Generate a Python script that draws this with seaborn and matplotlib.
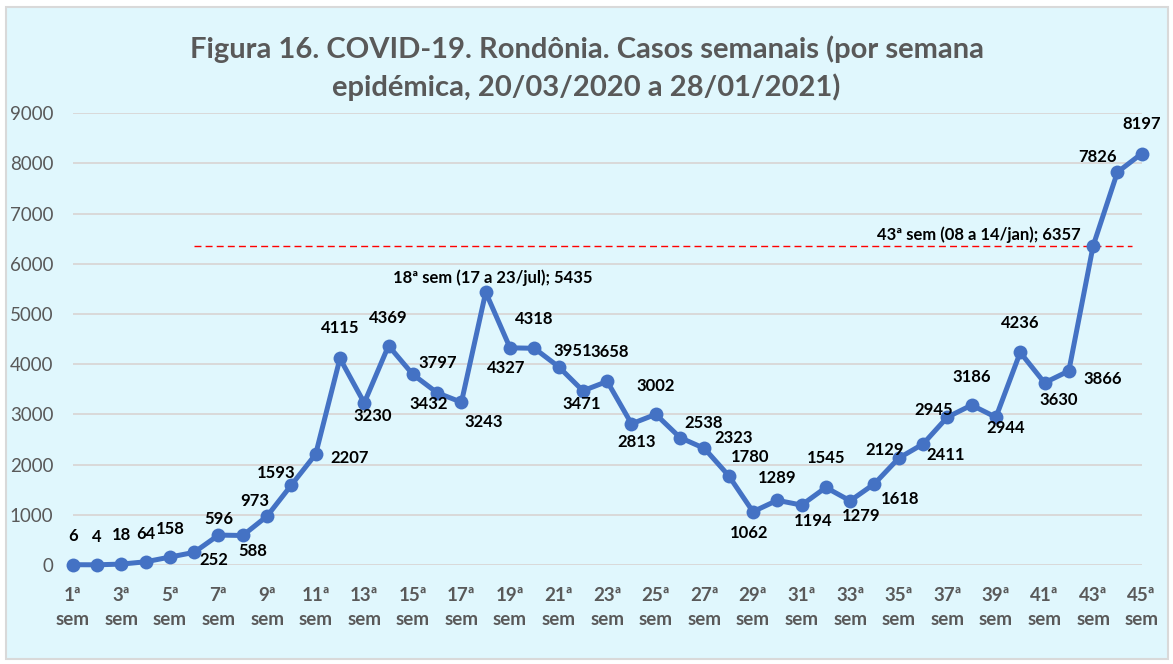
import numpy as np
import pandas as pd
import seaborn as sns
import matplotlib.pyplot as plt
from matplotlib.patches import Rectangle

# weekly cases, epidemiological weeks 1..45
weeks = ["{}ª sem".format(i) for i in range(1, 46)]
cases = [6, 4, 18, 64, 158, 252, 596, 588, 973, 1593,
         2207, 4115, 3230, 4369, 3797, 3432, 3243, 5435, 4327, 4318,
         3951, 3471, 3658, 2813, 3002, 2538, 2323, 1780, 1062, 1289,
         1194, 1545, 1279, 1618, 2129, 2411, 2945, 3186, 2944, 4236,
         3630, 3866, 6357, 7826, 8197]
highlight_weeks = [18, 43]
highlight_periods = ["17 a 23/jul", "08 a 14/jan"]

title = ("Figura 16. COVID-19. Rondônia. Casos semanais (por semana\n"
         "epidémica, 20/03/2020 a 28/01/2021)")

# label offsets from each point, in pixels (dx right, dy down)
label_offsets = [
    (0, -29), (0, -28), (0, -29), (0, -28), (0, -28), (20, 8), (0, -16), (10, 16), (-12, -15), (-15, -12),
    (34, 4), (0, -30), (8, 13), (0, -28), (25, -11), (-8, 11), (22, 20), (7, -15), (-4, 20), (0, -29),
    (14, -16), (-1, 13), (2, -29), (5, 18), (0, -28), (24, -15), (29, -10), (21, -19), (-4, 21), (0, -22),
    (12, 16), (0, -29), (11, 15), (26, 15), (-14, -8), (23, 11), (-14, -7), (0, -28), (10, 11), (0, -29),
    (14, 17), (34, 8), (-12, -11), (-20, -15), (0, -30),
]

df = pd.DataFrame({"x": np.arange(len(cases)), "casos": cases})

sns.set_theme(style="white")
plt.rcParams["font.family"] = ["Lato", "DejaVu Sans"]

W, H = 1173, 664
fig = plt.figure(figsize=(W / 100, H / 100), dpi=100)
fig.patch.set_facecolor("white")
fig.patches.append(Rectangle((6 / W, 5 / H), 1162 / W, 652 / H, transform=fig.transFigure,
                             facecolor="#E0F7FD", edgecolor="#D9D9D9", linewidth=1.5, zorder=-10))

ax = fig.add_axes([72.7 / W, 1 - 565 / H, (1141.7 - 72.7) / W, (565 - 113.3) / H])
ax.set_facecolor("none")

blue = "#4472C4"
sns.lineplot(data=df, x="x", y="casos", ax=ax, color=blue, linewidth=3.6,
             marker="o", markersize=10, markeredgewidth=0, zorder=3, clip_on=False)

ax.set_xlim(0, len(cases) - 1)
ax.set_ylim(0, 9000)
ax.set_yticks(range(0, 9001, 1000))
ax.yaxis.grid(True, color="#D9D9D9", linewidth=1.4)
ax.set_axisbelow(True)
for s in ax.spines.values():
    s.set_visible(False)

ax.set_xticks(range(0, len(cases), 2))
ax.set_xticklabels([w.replace(" ", "\n") for w in weeks[::2]], fontsize=13.5,
                   fontweight="bold", color="#595959", linespacing=1.45)
ax.tick_params(axis="x", length=0, pad=16)
ax.tick_params(axis="y", length=0, pad=14, labelsize=13.5, labelcolor="#595959")
ax.set_xlabel("")
ax.set_ylabel("")

# reference line at the 43rd week level
i43 = highlight_weeks[1] - 1
ax.hlines(cases[i43], 5, 43.6, colors="red", linestyles=(0, (5, 3)), linewidth=1.0, zorder=2)

for i, v in enumerate(cases):
    dx, dy = label_offsets[i]
    txt = str(v)
    ha = "center"
    if i + 1 in highlight_weeks:
        k = highlight_weeks.index(i + 1)
        txt = "{} ({}); {}".format(weeks[i], highlight_periods[k], v)
        if k == 1:
            ha = "right"
    ax.annotate(txt, (i, v), xytext=(dx * 0.72, -dy * 0.72), textcoords="offset points",
                ha=ha, va="center", fontsize=12, fontweight="bold", color="black",
                annotation_clip=False, zorder=4)

fig.text(0.5, 1 - 68 / H, title, ha="center", va="center", fontsize=21,
         fontweight="bold", color="#595959", linespacing=1.45)

fig.savefig("out.png", dpi=100)
